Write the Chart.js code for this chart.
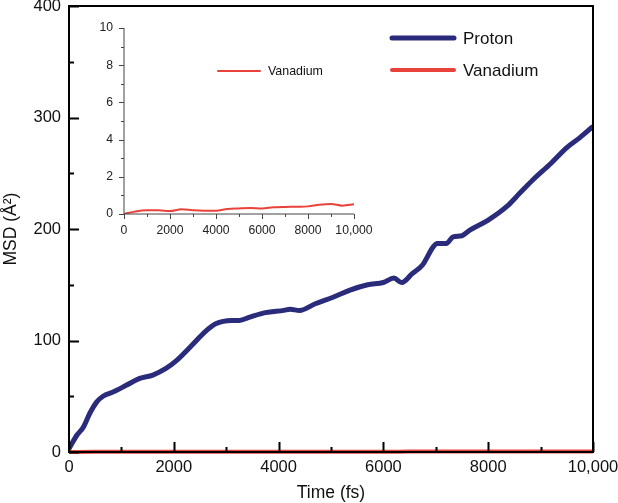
<!DOCTYPE html>
<html>
<head>
<meta charset="utf-8">
<script src="https://cdn.jsdelivr.net/npm/chart.js@4.4.1/dist/chart.umd.min.js"></script>
<style>
  body { margin: 0; background: #fff; }
  #wrap { position: relative; width: 618px; height: 503px; }
  #main { position: absolute; left: 0; top: 0; }
  #inset { position: absolute; left: 80px; top: 18px; }
</style>
</head>
<body>
<div id="wrap">
  <canvas id="main" width="618" height="503"></canvas>
  <canvas id="inset" width="300" height="240"></canvas>
</div>
<script>
// data
const protonTime = [0, 150, 270, 400, 530, 650, 850, 1100, 1350, 1600,
  1850, 2050, 2350, 2600, 2800, 3100, 3250, 3450, 3750, 4100,
  4220, 4400, 4700, 5050, 5350, 5700, 6000, 6200, 6350, 6550,
  6750, 6950, 7030, 7200, 7330, 7500, 7650, 8000, 8350, 8600,
  8850, 9200, 9500, 9750, 10000];
const protonMsd = [3, 15, 22, 35, 45, 50, 54, 60, 66, 69,
  75, 82, 96, 108, 115, 118, 118, 121, 125, 127,
  128, 127, 133, 139, 145, 150, 152, 156, 152, 160,
  168, 184, 187, 187, 193, 194, 199, 208, 220, 232,
  244, 259, 273, 282, 292];

const vanadiumTime = [0, 500, 1000, 1500, 2000, 2500, 3000, 3500, 4000, 4500,
  5000, 5500, 6000, 6500, 7000, 7500, 8000, 8500, 9000, 9500, 10000];
const vanadiumMsd = [0, 0.14, 0.2, 0.2, 0.16, 0.25, 0.2, 0.18, 0.18, 0.27,
  0.3, 0.32, 0.3, 0.36, 0.38, 0.39, 0.41, 0.5, 0.54, 0.45, 0.52];

const mainXTicks = [0, 2000, 4000, 6000, 8000, 10000];
const mainYTicks = [0, 100, 200, 300, 400];
const insetYTicks = [0, 2, 4, 6, 8, 10];

const FONT = "'Liberation Sans', Arial, sans-serif";
const NAVY = '#2a2b7a';
const RED = '#e8423b';

const pts = (xs, ys) => xs.map((x, i) => ({ x: x, y: ys[i] }));
const fmtTime = v => v === 10000 ? '10,000' : String(v);

// fixed axis box, no automatic overhang padding
const fixBox = size => s => {
  if (s.isHorizontal()) s.height = size; else s.width = size;
  s.paddingTop = s.paddingBottom = s.paddingLeft = s.paddingRight = 0;
};

// tick marks (major/minor), in or out
const tickMarks = {
  id: 'tickMarks',
  afterDatasetsDraw(chart, args, o) {
    const { ctx, chartArea: a, scales: { x, y } } = chart;
    ctx.save();
    ctx.strokeStyle = o.color;
    ctx.lineWidth = o.width;
    ctx.beginPath();
    x.ticks.forEach(t => {
      const px = Math.round(x.getPixelForValue(t.value)) + 0.5;
      const len = t.value % o.xMajor === 0 ? o.majorLen : o.minorLen;
      ctx.moveTo(px, a.bottom);
      ctx.lineTo(px, a.bottom + o.dir * len);
    });
    y.ticks.forEach(t => {
      const py = Math.round(y.getPixelForValue(t.value)) + 0.5;
      const len = t.value % o.yMajor === 0 ? o.majorLen : o.minorLen;
      ctx.moveTo(a.left, py);
      ctx.lineTo(a.left - o.dir * len, py);
    });
    ctx.stroke();
    ctx.restore();
  }
};

const frame = {
  id: 'frame',
  afterDatasetsDraw(chart, args, o) {
    const { ctx, chartArea: a } = chart;
    ctx.save();
    ctx.strokeStyle = o.color;
    ctx.lineWidth = o.width;
    ctx.beginPath();
    if (o.full) {
      ctx.rect(a.left, a.top, a.right - a.left, a.bottom - a.top);
    } else {
      ctx.moveTo(a.left, a.top);
      ctx.lineTo(a.left, a.bottom);
      ctx.lineTo(a.right, a.bottom);
    }
    ctx.stroke();
    ctx.restore();
  }
};

const lineLegend = {
  id: 'lineLegend',
  afterDraw(chart, args, o) {
    const { ctx } = chart;
    ctx.save();
    ctx.font = o.fontSize + 'px ' + FONT;
    ctx.textBaseline = 'middle';
    ctx.fillStyle = '#111';
    o.items.forEach(it => {
      const ds = chart.data.datasets[it.index];
      ctx.strokeStyle = ds.borderColor;
      ctx.lineWidth = ds.borderWidth;
      ctx.lineCap = 'round';
      ctx.beginPath();
      ctx.moveTo(it.x, it.y);
      ctx.lineTo(it.x + o.lineLen, it.y);
      ctx.stroke();
      ctx.fillText(ds.label, it.x + o.lineLen + o.gap, it.y + 1);
    });
    ctx.restore();
  }
};

Chart.register(tickMarks, frame, lineLegend);

// main chart
new Chart(document.getElementById('main'), {
  type: 'line',
  data: {
    datasets: [{
      label: 'Proton',
      data: pts(protonTime, protonMsd),
      borderColor: NAVY,
      borderWidth: 5,
      pointRadius: 0,
      cubicInterpolationMode: 'monotone',
      order: 1
    }, {
      label: 'Vanadium',
      data: pts(vanadiumTime, vanadiumMsd),
      borderColor: RED,
      borderWidth: 4,
      pointRadius: 0,
      cubicInterpolationMode: 'monotone',
      clip: 4,
      order: 0
    }]
  },
  options: {
    responsive: false,
    animation: false,
    layout: { padding: { top: 6, right: 25, left: 0, bottom: 0 } },
    plugins: {
      legend: { display: false },
      tooltip: { enabled: false },
      tickMarks: { color: '#000', width: 2, dir: -1, majorLen: 10, minorLen: 5, xMajor: 2000, yMajor: 100 },
      frame: { color: '#000', width: 2, full: true },
      lineLegend: {
        fontSize: 17, lineLen: 62, gap: 9,
        items: [{ index: 0, x: 392, y: 38 }, { index: 1, x: 392, y: 70 }]
      }
    },
    scales: {
      x: {
        type: 'linear', min: 0, max: 10000,
        afterFit: fixBox(51),
        grid: { display: false, drawTicks: false },
        border: { display: false },
        afterBuildTicks: s => { s.ticks = [...Array(11).keys()].map(i => ({ value: i * 1000 })); },
        ticks: {
          autoSkip: false, maxRotation: 0, padding: 6,
          color: '#111', font: { family: FONT, size: 16.5 },
          callback: v => mainXTicks.includes(v) ? fmtTime(v) : ''
        },
        title: {
          display: true, text: 'Time (fs)', color: '#111',
          font: { family: FONT, size: 17.5 }, padding: { top: 0, bottom: -1 }
        }
      },
      y: {
        min: 0, max: 400,
        afterFit: fixBox(69),
        grid: { display: false, drawTicks: false },
        border: { display: false },
        afterBuildTicks: s => { s.ticks = [...Array(9).keys()].map(i => ({ value: i * 50 })); },
        ticks: {
          autoSkip: false, padding: 8,
          color: '#111', font: { family: FONT, size: 16.5 },
          callback: v => mainYTicks.includes(v) ? String(v) : ''
        },
        title: {
          display: true, text: 'MSD (Å²)', color: '#111',
          font: { family: FONT, size: 17.5 }, padding: { top: 1, bottom: 0 }
        }
      }
    }
  }
});

// inset chart
new Chart(document.getElementById('inset'), {
  type: 'line',
  data: {
    datasets: [{
      label: 'Vanadium',
      data: pts(vanadiumTime, vanadiumMsd),
      borderColor: RED,
      borderWidth: 2,
      pointRadius: 0,
      cubicInterpolationMode: 'monotone'
    }]
  },
  options: {
    responsive: false,
    animation: false,
    layout: { padding: { top: 10, right: 26, left: 0, bottom: 0 } },
    plugins: {
      legend: { display: false },
      tooltip: { enabled: false },
      tickMarks: { color: '#444', width: 1, dir: 1, majorLen: 5, minorLen: 3, xMajor: 2000, yMajor: 2 },
      frame: { color: '#444', width: 1, full: false },
      lineLegend: {
        fontSize: 12.4, lineLen: 42, gap: 8,
        items: [{ index: 0, x: 138, y: 53 }]
      }
    },
    scales: {
      x: {
        type: 'linear', min: 0, max: 10000,
        afterFit: fixBox(44),
        grid: { display: false, drawTicks: false },
        border: { display: false },
        afterBuildTicks: s => { s.ticks = [...Array(11).keys()].map(i => ({ value: i * 1000 })); },
        ticks: {
          autoSkip: false, maxRotation: 0, padding: 9,
          color: '#222', font: { family: FONT, size: 12.2 },
          callback: v => mainXTicks.includes(v) ? fmtTime(v) : ''
        }
      },
      y: {
        min: 0, max: 10,
        afterFit: fixBox(44),
        grid: { display: false, drawTicks: false },
        border: { display: false },
        afterBuildTicks: s => { s.ticks = [...Array(11).keys()].map(i => ({ value: i })); },
        ticks: {
          autoSkip: false, padding: 11,
          color: '#222', font: { family: FONT, size: 12.2 },
          callback: v => insetYTicks.includes(v) ? String(v) : ''
        }
      }
    }
  }
});
</script>
</body>
</html>
